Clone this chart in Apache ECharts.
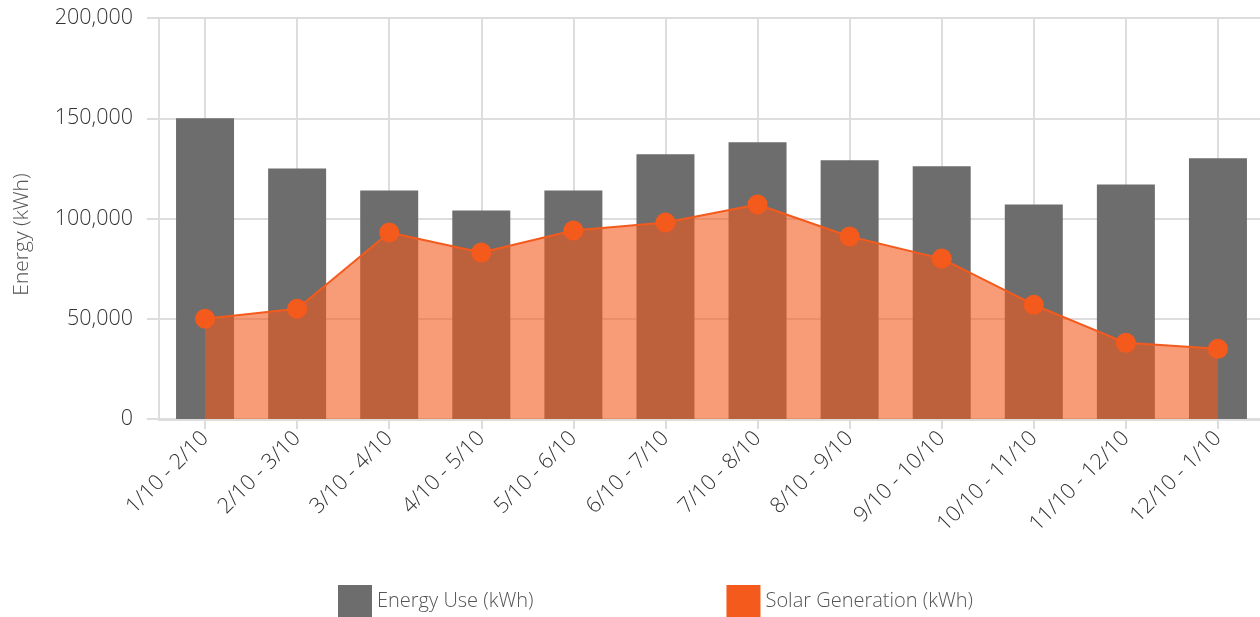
<!DOCTYPE html>
<html>
<head>
<meta charset="utf-8">
<script src="https://cdn.jsdelivr.net/npm/echarts@6/dist/echarts.min.js"></script>
<style>
  html, body { margin: 0; padding: 0; background: #fff; }
  #chart { width: 1260px; height: 617px; }
</style>
</head>
<body>
<div id="chart"></div>
<script>
// Billing periods (month/year ranges)
const periods = ['1/10 - 2/10', '2/10 - 3/10', '3/10 - 4/10', '4/10 - 5/10', '5/10 - 6/10', '6/10 - 7/10',
                 '7/10 - 8/10', '8/10 - 9/10', '9/10 - 10/10', '10/10 - 11/10', '11/10 - 12/10', '12/10 - 1/10'];
// Energy consumed per period (kWh)
const energyUse = [150000, 125000, 114000, 104000, 114000, 132000, 138000, 129000, 126000, 107000, 117000, 130000];
// Solar energy generated per period (kWh)
const solarGeneration = [50000, 55000, 93000, 83000, 94000, 98000, 107000, 91000, 80000, 57000, 38000, 35000];
const seriesNames = ['Energy Use (kWh)', 'Solar Generation (kWh)'];

const FONT = "'Open Sans', 'Noto Sans', sans-serif";
const GRID_COLOR = '#dddddd';
const GRAY = '#6d6d6d';
const ORANGE = '#f45a1c';

const chart = echarts.init(document.getElementById('chart'), null, { renderer: 'canvas' });
chart.setOption({
  animation: false,
  textStyle: { fontFamily: FONT },
  grid: { left: 159, right: -4, top: 18, bottom: 198, containLabel: false, outerBoundsMode: 'none' },
  legend: {
    left: 333,
    bottom: -5,
    itemWidth: 34,
    itemHeight: 32,
    itemGap: 193,
    icon: 'rect',
    textStyle: { fontFamily: FONT, fontWeight: 300, fontSize: 20, color: '#555' },
    data: [
      { name: seriesNames[0], itemStyle: { color: GRAY } },
      { name: seriesNames[1], itemStyle: { color: ORANGE, opacity: 1 } }
    ]
  },
  xAxis: {
    type: 'category',
    data: periods,
    boundaryGap: true,
    axisLine: { show: true, lineStyle: { color: GRID_COLOR, width: 3 } },
    axisTick: { show: true, alignWithLabel: true, length: 10, lineStyle: { color: GRID_COLOR, width: 2 } },
    splitLine: { show: true, alignWithLabel: true, lineStyle: { color: GRID_COLOR, width: 2 } },
    axisLabel: {
      rotate: 45,
      margin: 16,
      fontFamily: FONT,
      fontWeight: 300,
      fontSize: 21.5,
      color: '#333'
    }
  },
  yAxis: {
    type: 'value',
    min: 0,
    max: 200000,
    interval: 50000,
    name: 'Energy (kWh)',
    nameLocation: 'middle',
    nameGap: 126,
    nameRotate: 90,
    nameTextStyle: { fontFamily: FONT, fontWeight: 300, fontSize: 21, color: '#555', padding: [0, 32, 0, 0] },
    axisLine: { show: true, lineStyle: { color: GRID_COLOR, width: 2 } },
    axisTick: { show: true, length: 12, lineStyle: { color: GRID_COLOR, width: 2 } },
    splitLine: { show: true, lineStyle: { color: GRID_COLOR, width: 2 } },
    axisLabel: {
      margin: 26,
      fontFamily: FONT,
      fontWeight: 300,
      fontSize: 21.5,
      color: '#333',
      formatter: v => v.toLocaleString('en-US')
    }
  },
  series: [
    {
      name: seriesNames[0],
      type: 'bar',
      data: energyUse,
      barWidth: 58,
      itemStyle: { color: GRAY }
    },
    {
      name: seriesNames[1],
      type: 'line',
      data: solarGeneration,
      symbol: 'circle',
      symbolSize: 20,
      showAllSymbol: true,
      lineStyle: { color: ORANGE, width: 2 },
      itemStyle: { color: ORANGE },
      areaStyle: { color: ORANGE, opacity: 0.6 }
    }
  ]
});
</script>
</body>
</html>
